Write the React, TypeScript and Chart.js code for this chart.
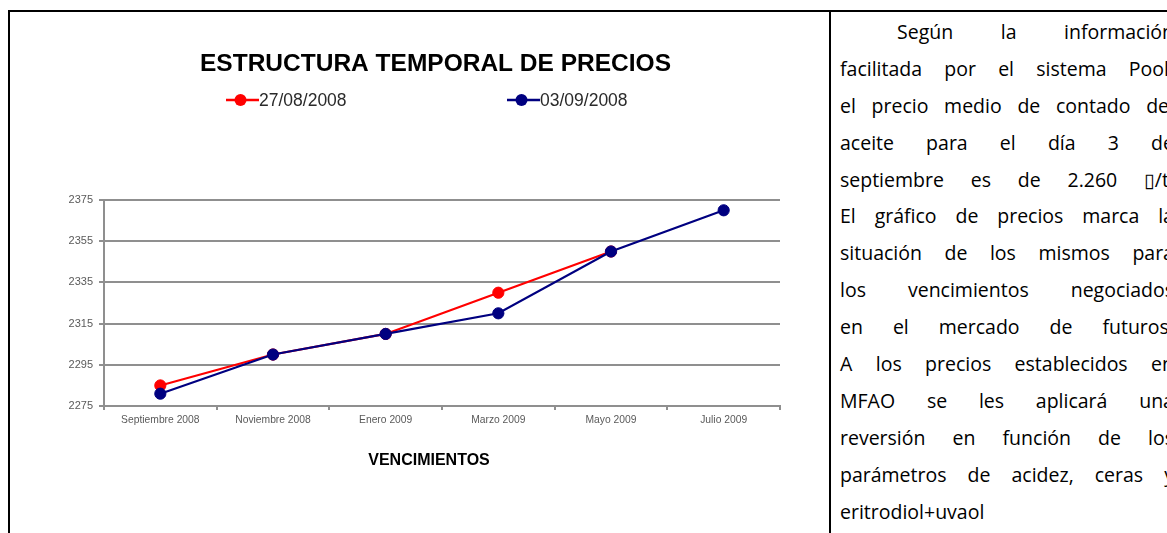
import React, { useEffect, useRef } from "react";
import { Chart, registerables } from "chart.js";

Chart.register(...registerables);

// ---- data ----
const categories = [
  "Septiembre 2008",
  "Noviembre 2008",
  "Enero 2009",
  "Marzo 2009",
  "Mayo 2009",
  "Julio 2009",
];
const prices27Aug: (number | null)[] = [2285, 2300, 2310, 2330, 2350, null];
const prices03Sep: number[] = [2281, 2300, 2310, 2320, 2350, 2370];
const seriesLabels = ["27/08/2008", "03/09/2008"];
const seriesColors = ["#ff0000", "#000080"];
const yMin = 2275;
const yMax = 2375;
const yStep = 20;
const chartTitle = "ESTRUCTURA TEMPORAL DE PRECIOS";
const xAxisTitle = "VENCIMIENTOS";

const textLines = [
  "Según la información",
  "facilitada por el sistema Pool,",
  "el precio medio de contado del",
  "aceite para el día 3 de",
  "septiembre es de 2.260 \u25AF/t.",
  "El gráfico de precios marca la",
  "situación de los mismos para",
  "los vencimientos negociados",
  "en el mercado de futuros.",
  "A los precios establecidos en",
  "MFAO se les aplicará una",
  "reversión en función de los",
  "parámetros de acidez, ceras y",
  "eritrodiol+uvaol",
];

const FONT = "'Liberation Sans', Arial, Helvetica, sans-serif";
const GRID = "#8f8f8f";

// Draws the chart title, the line+marker legend and the x axis title
const excelDecor = {
  id: "excelDecor",
  afterDraw(chart: any, _args: any, opts: any) {
    const ctx = chart.ctx;
    ctx.save();
    // title
    ctx.fillStyle = "#000";
    ctx.font = opts.titleFont;
    ctx.textAlign = "center";
    ctx.textBaseline = "middle";
    ctx.fillText(opts.title, opts.titleX, opts.titleY);
    // legend
    chart.data.datasets.forEach((ds: any, i: number) => {
      const x = opts.legendXs[i];
      const y = opts.legendY;
      ctx.strokeStyle = ds.borderColor;
      ctx.lineWidth = 2.5;
      ctx.beginPath();
      ctx.moveTo(x, y);
      ctx.lineTo(x + opts.lineLength, y);
      ctx.stroke();
      ctx.fillStyle = ds.borderColor;
      ctx.beginPath();
      ctx.arc(x + opts.circleAt, y, opts.radius, 0, Math.PI * 2);
      ctx.fill();
      ctx.fillStyle = opts.legendColor;
      ctx.font = opts.legendFont;
      ctx.textBaseline = "middle";
      ctx.textAlign = "left";
      ctx.fillText(ds.label, x + opts.lineLength, y + 1);
    });
    // x axis title
    ctx.fillStyle = "#000";
    ctx.font = opts.xTitleFont;
    ctx.textAlign = "center";
    ctx.textBaseline = "middle";
    ctx.fillText(opts.xTitle, opts.xTitleX, opts.xTitleY);
    ctx.restore();
  },
};

function PriceChart() {
  const ref = useRef<HTMLCanvasElement | null>(null);
  useEffect(() => {
    if (!ref.current) return;
    const chart = new Chart(ref.current, {
      type: "line",
      data: {
        labels: categories,
        datasets: [
          {
            label: seriesLabels[0],
            data: prices27Aug,
            borderColor: seriesColors[0],
            backgroundColor: seriesColors[0],
            pointBackgroundColor: seriesColors[0],
            pointBorderColor: seriesColors[0],
            borderWidth: 2.2,
            pointRadius: 5.6,
            pointBorderWidth: 1,
            tension: 0,
            spanGaps: false,
            order: 2,
          },
          {
            label: seriesLabels[1],
            data: prices03Sep,
            borderColor: seriesColors[1],
            backgroundColor: seriesColors[1],
            pointBackgroundColor: seriesColors[1],
            pointBorderColor: seriesColors[1],
            borderWidth: 2.2,
            pointRadius: 5.6,
            pointBorderWidth: 1,
            tension: 0,
            order: 1,
          },
        ],
      },
      options: {
        responsive: false,
        animation: false,
        devicePixelRatio: 1,
        layout: { padding: { left: 54, right: 49, top: 188, bottom: 102.6 } },
        plugins: {
          legend: { display: false },
          tooltip: { enabled: false },
          title: { display: false },
          excelDecor: {
            title: chartTitle,
            titleFont: `bold 24.5px ${FONT}`,
            titleX: 425.5,
            titleY: 52,
            legendXs: [216, 497],
            legendY: 88,
            lineLength: 33,
            circleAt: 14.5,
            radius: 6,
            legendColor: "#2a2a2a",
            legendFont: `17.5px ${FONT}`,
            xTitle: xAxisTitle,
            xTitleFont: `bold 16px ${FONT}`,
            xTitleX: 419,
            xTitleY: 449,
          },
        } as any,
        scales: {
          x: {
            type: "category",
            offset: true,
            grid: {
              display: true,
              drawOnChartArea: false,
              drawTicks: true,
              tickLength: 4,
              color: GRID,
              lineWidth: 2,
              offset: true,
            },
            border: { display: true, color: GRID, width: 2 },
            ticks: {
              color: "#5a5a5a",
              font: { family: FONT, size: 10.3 },
              padding: 4,
              maxRotation: 0,
              autoSkip: false,
            },
            title: { display: false },
          },
          y: {
            min: yMin,
            max: yMax,
            afterFit: (scale: any) => {
              scale.width = 40;
            },
            grid: {
              color: GRID,
              lineWidth: 2,
              tickLength: 5,
              drawTicks: true,
            },
            border: { display: true, color: GRID, width: 2 },
            ticks: {
              stepSize: yStep,
              color: "#5a5a5a",
              font: { family: FONT, size: 11 },
              padding: 6,
              callback: (value: any) => String(value),
            },
          },
        },
      },
      plugins: [excelDecor as any],
    });
    return () => chart.destroy();
  }, []);
  return <canvas ref={ref} width={819} height={521} style={{ display: "block" }} />;
}

export default function App() {
  const lineH = 36.9;
  return (
    <div
      style={{
        position: "fixed",
        left: 0,
        top: 0,
        width: "100vw",
        height: "100vh",
        overflow: "hidden",
        background: "#fff",
      }}
    >
      <div style={{ position: "absolute", left: 8, top: 10, width: 2000, height: 2, background: "#000" }} />
      <div style={{ position: "absolute", left: 8, top: 10, width: 2, height: 700, background: "#000" }} />
      <div style={{ position: "absolute", left: 829, top: 10, width: 2, height: 700, background: "#000" }} />
      <div style={{ position: "absolute", left: 10, top: 12 }}>
        <PriceChart />
      </div>
      <div
        style={{
          position: "absolute",
          left: 840,
          top: 14,
          width: 334,
          fontFamily: "'Open Sans', 'DejaVu Sans', sans-serif",
          fontSize: 19.5,
          color: "#000",
        }}
      >
        {textLines.map((line, i) => {
          const last = i === textLines.length - 1;
          return (
            <div
              key={i}
              style={{
                height: lineH,
                lineHeight: `${lineH}px`,
                display: "flex",
                justifyContent: last ? "flex-start" : "space-between",
                paddingLeft: i === 0 ? 57 : 0,
                whiteSpace: "nowrap",
              }}
            >
              {last ? <span>{line}</span> : line.split(" ").map((w, j) => <span key={j}>{w}</span>)}
            </div>
          );
        })}
      </div>
    </div>
  );
}
